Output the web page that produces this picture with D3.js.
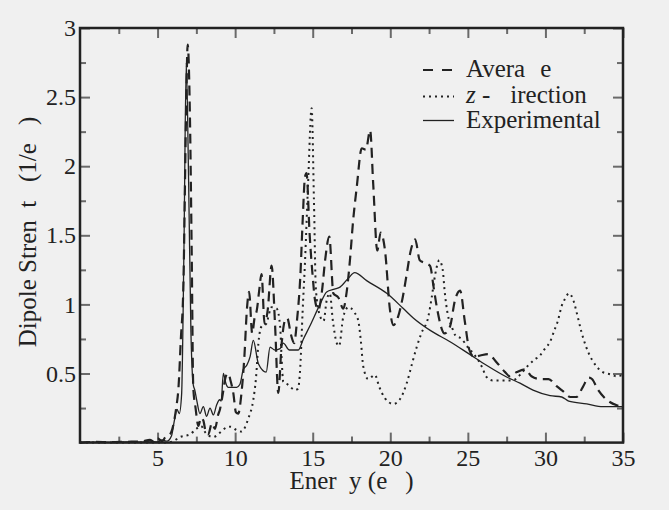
<!DOCTYPE html>
<html>
<head>
<meta charset="utf-8">
<script src="https://cdn.jsdelivr.net/npm/d3@7"></script>
<style>
  body { margin: 0; background: #f0f0f0; }
  svg { display: block; }
</style>
</head>
<body>
<script>
const W = 669, H = 510;
const margin = {left: 80, top: 28, right: 46, bottom: 67.4};

// Average (dashed)
const avgE = [0, 1, 2, 3, 4, 4.5, 4.8, 5.0, 5.3, 5.5, 5.8, 6.0, 6.2, 6.35, 6.5, 6.66, 6.83, 6.94, 7.09, 7.2, 7.3, 7.45, 7.63, 7.8, 7.95, 8.1, 8.27, 8.5, 8.7, 8.9, 9.02, 9.2, 9.4, 9.56, 9.7, 9.88, 10.05, 10.2, 10.4, 10.6, 10.75, 10.9, 11.1, 11.25, 11.4, 11.55, 11.7, 11.9, 12.1, 12.35, 12.57, 12.78, 13.0, 13.2, 13.36, 13.6, 13.8, 14.0, 14.2, 14.35, 14.5, 14.6, 14.8, 15.0, 15.15, 15.36, 15.6, 15.8, 16.07, 16.33, 16.65, 16.97, 17.2, 17.4, 17.6, 17.84, 18.16, 18.43, 18.7, 18.9, 19.16, 19.38, 19.66, 19.98, 20.2, 20.5, 20.8, 21.06, 21.3, 21.6, 21.9, 22.24, 22.56, 22.8, 23.0, 23.5, 23.85, 24.17, 24.5, 24.8, 25.1, 25.4, 25.8, 26.3, 26.86, 27.4, 27.7, 28.15, 28.7, 29.1, 29.65, 30.2, 30.7, 31.15, 31.6, 32.0, 32.4, 32.8, 33.0, 33.4, 33.95, 34.6, 35];
const avgS = [0, 0.005, 0.003, 0.006, 0.008, 0.02, 0.005, 0.03, 0.01, 0.04, 0.06, 0.12, 0.25, 0.40, 0.75, 1.12, 2.33, 2.88, 2.33, 1.37, 0.40, 0.25, 0.12, 0.18, 0.16, 0.08, 0.06, 0.14, 0.10, 0.2, 0.24, 0.35, 0.48, 0.50, 0.45, 0.36, 0.22, 0.21, 0.35, 0.63, 0.95, 1.09, 0.79, 0.9, 0.96, 1.1, 1.22, 0.86, 0.96, 1.28, 0.86, 0.36, 0.72, 0.88, 0.90, 0.78, 0.72, 0.9, 1.2, 1.6, 1.92, 1.95, 1.51, 1.2, 1.03, 0.96, 1.1, 1.32, 1.49, 1.08, 1.05, 0.97, 1.1, 1.32, 1.6, 1.85, 2.13, 2.12, 2.26, 1.87, 1.39, 1.52, 1.39, 0.96, 0.85, 0.91, 1.05, 1.22, 1.38, 1.47, 1.32, 1.30, 1.28, 1.12, 0.98, 0.79, 0.84, 1.03, 1.10, 0.88, 0.67, 0.62, 0.63, 0.64, 0.58, 0.51, 0.48, 0.51, 0.53, 0.48, 0.46, 0.46, 0.41, 0.37, 0.33, 0.33, 0.40, 0.47, 0.46, 0.38, 0.31, 0.27, 0.26];

// z-direction (dotted)
const zE = [0, 5.5, 6.0, 6.45, 7.1, 7.5, 7.8, 8.1, 8.6, 9.0, 9.45, 9.7, 10.1, 10.4, 10.85, 11.17, 11.35, 11.5, 11.7, 12.0, 12.35, 12.68, 12.9, 13.0, 13.1, 13.4, 13.86, 14.05, 14.2, 14.35, 14.5, 14.7, 14.93, 15.08, 15.2, 15.43, 15.7, 15.9, 16.1, 16.3, 16.55, 16.7, 16.97, 17.3, 17.7, 17.94, 18.1, 18.26, 18.58, 19.0, 19.3, 19.66, 20.2, 20.6, 21.06, 21.4, 21.7, 22.0, 22.45, 22.67, 22.9, 23.16, 23.38, 23.5, 23.7, 23.96, 24.17, 24.6, 25.0, 25.46, 25.9, 26.2, 26.6, 27.2, 27.9, 28.36, 28.9, 29.3, 29.65, 29.97, 30.3, 30.6, 30.8, 31.05, 31.26, 31.52, 31.8, 32.06, 32.3, 32.6, 33.0, 33.3, 33.7, 34.16, 34.6, 35];
const zS = [0, 0, 0.01, 0.04, 0.06, 0.1, 0.12, 0.07, 0.04, 0.07, 0.11, 0.115, 0.09, 0.08, 0.175, 0.31, 0.475, 0.72, 0.84, 0.86, 0.98, 0.97, 0.84, 0.6, 0.44, 0.42, 0.38, 0.39, 0.55, 0.95, 1.3, 1.87, 2.42, 1.75, 1.12, 0.93, 0.88, 1.03, 1.08, 0.88, 0.72, 0.70, 0.91, 0.98, 0.94, 0.88, 0.74, 0.55, 0.46, 0.49, 0.40, 0.32, 0.28, 0.31, 0.43, 0.57, 0.69, 0.79, 0.91, 1.05, 1.22, 1.32, 1.25, 1.10, 0.93, 0.84, 0.78, 0.75, 0.69, 0.63, 0.55, 0.475, 0.45, 0.45, 0.45, 0.49, 0.56, 0.60, 0.63, 0.68, 0.73, 0.82, 0.88, 0.99, 1.04, 1.08, 1.03, 0.92, 0.81, 0.70, 0.60, 0.55, 0.51, 0.495, 0.48, 0.49];

// Experimental (solid)
const expE = [0, 1, 2, 3, 4, 4.5, 5.0, 5.3, 5.6, 5.9, 6.1, 6.25, 6.4, 6.55, 6.7, 6.85, 7.0, 7.15, 7.3, 7.4, 7.52, 7.73, 7.95, 8.16, 8.38, 8.6, 8.8, 9.0, 9.1, 9.24, 9.4, 9.56, 10.1, 10.3, 10.53, 10.75, 10.96, 11.17, 11.5, 12.0, 12.25, 12.57, 12.9, 13.1, 13.5, 14.07, 14.4, 14.8, 15.47, 15.9, 16.4, 16.76, 17.3, 17.7, 18.5, 19.77, 20.84, 21.5, 22.6, 23.85, 25.1, 26.2, 27.5, 28.36, 29.2, 30.3, 31.05, 31.5, 32.66, 33.7, 34.9, 35];
const expS = [0, 0.003, 0.002, 0.005, 0.004, 0.01, 0.005, 0.02, 0.01, 0.05, 0.17, 0.24, 0.21, 0.35, 1.4, 2.75, 1.9, 0.8, 0.42, 0.38, 0.31, 0.21, 0.26, 0.19, 0.25, 0.20, 0.27, 0.31, 0.3, 0.50, 0.43, 0.40, 0.40, 0.42, 0.53, 0.56, 0.62, 0.74, 0.57, 0.51, 0.69, 0.67, 0.68, 0.72, 0.67, 0.67, 0.75, 0.84, 1.0, 1.09, 1.11, 1.125, 1.19, 1.23, 1.17, 1.08, 0.97, 0.90, 0.81, 0.73, 0.64, 0.56, 0.475, 0.43, 0.38, 0.34, 0.33, 0.30, 0.28, 0.26, 0.26, 0.255];

const xMajor = [5, 10, 15, 20, 25, 30, 35];
const xMinor = [2.5, 7.5, 12.5, 17.5, 22.5, 27.5, 32.5];
const yMajor = [0.5, 1, 1.5, 2, 2.5, 3];
const yMinor = [0.25, 0.75, 1.25, 1.75, 2.25, 2.75];

const iw = W - margin.left - margin.right;
const ih = H - margin.top - margin.bottom;

const svg = d3.select("body").append("svg")
    .attr("width", W)
    .attr("height", H);

const g = svg.append("g")
    .attr("transform", "translate(" + margin.left + "," + margin.top + ")");

const x = d3.scaleLinear().domain([0, 35]).range([0, iw]);
const y = d3.scaleLinear().domain([0, 3]).range([ih, 0]);

// ticks, all pointing inwards
function styleAxis(sel) {
    sel.select(".domain").remove();
    sel.selectAll(".tick line").attr("stroke", "#6a6a6a").attr("stroke-width", 2);
    sel.selectAll(".tick text").attr("fill", "#222")
        .style("font-family", "'Liberation Serif'").style("font-size", "24px");
}

g.append("g").attr("transform", "translate(0," + ih + ")")
    .call(d3.axisBottom(x).tickValues(xMajor).tickSize(-10).tickPadding(6).tickFormat(d3.format("d")))
    .call(styleAxis);
g.append("g").attr("transform", "translate(0," + ih + ")")
    .call(d3.axisBottom(x).tickValues(xMinor).tickSize(-6).tickFormat(""))
    .call(styleAxis);
g.append("g")
    .call(d3.axisTop(x).tickValues(xMajor).tickSize(-10).tickFormat(""))
    .call(styleAxis);
g.append("g")
    .call(d3.axisTop(x).tickValues(xMinor).tickSize(-6).tickFormat(""))
    .call(styleAxis);
g.append("g")
    .call(d3.axisLeft(y).tickValues(yMajor).tickSize(-10).tickPadding(4).tickFormat(d => d))
    .call(styleAxis);
g.append("g")
    .call(d3.axisLeft(y).tickValues(yMinor).tickSize(-6).tickFormat(""))
    .call(styleAxis);
g.append("g").attr("transform", "translate(" + iw + ",0)")
    .call(d3.axisRight(y).tickValues(yMajor).tickSize(-10).tickFormat(""))
    .call(styleAxis);
g.append("g").attr("transform", "translate(" + iw + ",0)")
    .call(d3.axisRight(y).tickValues(yMinor).tickSize(-6).tickFormat(""))
    .call(styleAxis);

// curves
const line = d3.line()
    .x(d => x(d[0]))
    .y(d => y(d[1]))
    .curve(d3.curveMonotoneX);

const series = [
    {name: "exp", pts: d3.zip(expE, expS), width: 1.3, dash: null},
    {name: "z", pts: d3.zip(zE, zS), width: 2, dash: "2,4"},
    {name: "avg", pts: d3.zip(avgE, avgS), width: 2.2, dash: "10,6"}
];

g.selectAll(".curve")
    .data(series)
    .enter()
    .append("path")
    .attr("class", "curve")
    .attr("d", d => line(d.pts))
    .attr("fill", "none")
    .attr("stroke", "#222")
    .attr("stroke-width", d => d.width)
    .attr("stroke-dasharray", d => d.dash);

// frame
g.append("rect")
    .attr("width", iw)
    .attr("height", ih)
    .attr("fill", "none")
    .attr("stroke", "#222")
    .attr("stroke-width", 2.5);

// legend
const leg = svg.append("g").attr("class", "big");
const legRows = [
    {y: 70, dash: "10,9", width: 2.2},
    {y: 96.5, dash: "2,4", width: 2},
    {y: 120.5, dash: null, width: 1.3}
];
leg.selectAll("line")
    .data(legRows)
    .enter()
    .append("line")
    .attr("x1", 423).attr("x2", 454)
    .attr("y1", d => d.y).attr("y2", d => d.y)
    .attr("stroke", "#222")
    .attr("stroke-width", d => d.width)
    .attr("stroke-dasharray", d => d.dash);

let t1 = leg.append("text").attr("x", 466).attr("y", 77);
t1.append("tspan").text("Avera");
t1.append("tspan").attr("dx", 15).text("e");

let t2 = leg.append("text").attr("x", 466).attr("y", 103);
t2.append("tspan").style("font-style", "italic").text("z");
t2.append("tspan").text(" -");
t2.append("tspan").attr("dx", 20).text("irection");

leg.append("text").attr("x", 466).attr("y", 128).text("Experimental");

// axis titles
let xt = svg.append("text")
    .attr("x", margin.left + iw / 2)
    .attr("y", 489)
    .attr("text-anchor", "middle");
xt.append("tspan").text("Ener");
xt.append("tspan").attr("dx", 12.5).text("y (e");
xt.append("tspan").attr("dx", 18).text(")");

let yt = svg.append("text")
    .attr("transform", "translate(36," + 232 + ") rotate(-90)")
    .attr("text-anchor", "middle");
yt.append("tspan").text("Dipole Stren");
yt.append("tspan").attr("dx", 12.5).text("t");
yt.append("tspan").attr("dx", 12.5).text(" (1/e");
yt.append("tspan").attr("dx", 18).text(")");

// serif face for the legend and the axis titles
leg.selectAll("text").style("font-family", "'Liberation Serif'").style("font-size", "25px").attr("fill", "#222");
xt.style("font-family", "'Liberation Serif'").style("font-size", "25px").attr("fill", "#222");
yt.style("font-family", "'Liberation Serif'").style("font-size", "25px").attr("fill", "#222");
</script>
</body>
</html>
